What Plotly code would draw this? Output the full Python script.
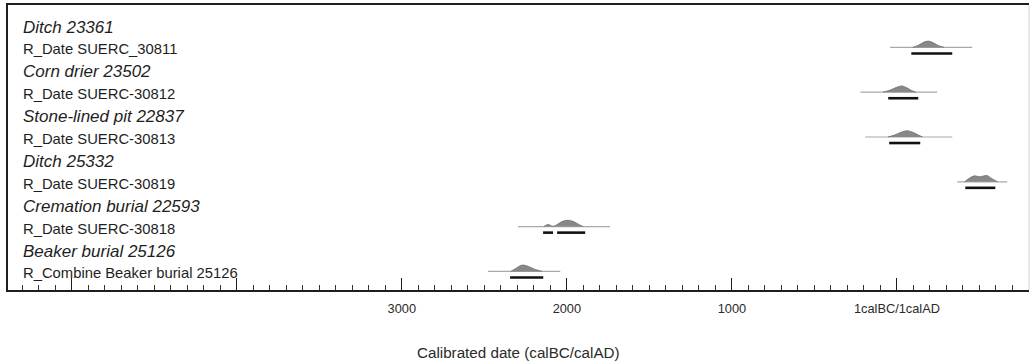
import plotly.graph_objects as go

# ---------------- data ----------------
row_labels = [
    "Ditch 23361", "R_Date SUERC_30811",
    "Corn drier 23502", "R_Date SUERC-30812",
    "Stone-lined pit 22837", "R_Date SUERC-30813",
    "Ditch 25332", "R_Date SUERC-30819",
    "Cremation burial 22593", "R_Date SUERC-30818",
    "Beaker burial 25126", "R_Combine Beaker burial 25126",
]
row_is_group = [True, False, True, False, True, False,
                True, False, True, False, True, False]

# calendar years: negative = BC, positive = AD
date_rows = [1, 3, 5, 7, 9, 11]

# probability outline (year, relative height)
hump_years = [
    [95, 130, 165, 190, 215, 250, 285],
    [-85, -45, -5, 30, 60, 90, 115],
    [-55, -15, 25, 62, 100, 130, 155],
    [410, 440, 470, 500, 545, 575, 610],
    [-2140, -2113, -2085, -2060, -2030, -1993, -1955, -1925, -1900],
    [-2340, -2310, -2280, -2260, -2230, -2190, -2150],
]
hump_heights = [
    [0, 0.35, 0.85, 1.0, 0.8, 0.3, 0],
    [0, 0.3, 0.75, 1.0, 0.7, 0.25, 0],
    [0, 0.3, 0.75, 1.0, 0.7, 0.3, 0],
    [0, 0.6, 0.95, 0.8, 1.0, 0.5, 0],
    [0, 0.35, 0.05, 0.3, 0.8, 1.0, 0.75, 0.3, 0],
    [0, 0.45, 0.95, 1.0, 0.75, 0.3, 0],
]
# faint likelihood extent
line_ranges = [
    [-41, 456], [-222, 244], [-192, 335], [365, 668], [-2295, -1738], [-2477, -2040],
]
# 95.4% range bars
range_bars = [
    [[87, 335]],
    [[-53, 129]],
    [[-47, 141]],
    [[414, 596]],
    [[-2144, -2084], [-2059, -1889]],
    [[-2344, -2143]],
]

major_tick_vals = [-5000, -4000, -3000, -2000, -1000, 0]
major_tick_text = ["", "", "3000", "2000", "1000", "1calBC/1calAD"]
x_range = [-5386, 800]
axis_title = "Calibrated date (calBC/calAD)"

# ---------------- style ----------------
LINE_OFF = -0.09   # row units (reversed axis: negative = up)
HUMP_H = 0.28
BAR_OFF = 0.18
INK = "#1e1e1e"
FONT = "Liberation Sans, Arial, sans-serif"

fig = go.Figure()

for k, r in enumerate(date_rows):
    lo, hi = line_ranges[k]
    fig.add_trace(go.Scatter(
        x=[lo, hi], y=[r + LINE_OFF, r + LINE_OFF], mode="lines",
        line=dict(color="#a8a8a8", width=1.2), hoverinfo="skip", showlegend=False))
    xs = hump_years[k]
    ys = [r + LINE_OFF - HUMP_H * h for h in hump_heights[k]]
    fig.add_trace(go.Scatter(
        x=xs, y=ys, mode="lines", fill="toself",
        line=dict(color="#707070", width=0.8, shape="spline", smoothing=0.8),
        fillcolor="#888888", hoverinfo="skip", showlegend=False))
    for b0, b1 in range_bars[k]:
        fig.add_trace(go.Scatter(
            x=[b0, b1], y=[r + BAR_OFF, r + BAR_OFF], mode="lines",
            line=dict(color="#111111", width=2.6), hoverinfo="skip", showlegend=False))

annotations = []
for i, lab in enumerate(row_labels):
    grp = row_is_group[i]
    annotations.append(dict(
        x=(20.5 - 8) / 1021, xref="paper", y=i, yref="y",
        text=f"<i>{lab}</i>" if grp else lab,
        showarrow=False, xanchor="left", yanchor="middle",
        font=dict(family=FONT, size=17.0 if grp else 14.8, color=INK)))

annotations.append(dict(
    x=0.5, xref="paper", y=-(352 - 290) / 285, yref="paper",
    text=axis_title, showarrow=False, xanchor="center", yanchor="middle",
    font=dict(family=FONT, size=15.2, color="#2a2a2a")))

fig.update_layout(
    width=1032, height=364,
    margin=dict(l=8, r=3, t=5, b=74),
    paper_bgcolor="white", plot_bgcolor="white",
    annotations=annotations,
    shapes=[dict(type="line", xref="paper", yref="paper", x0=1, x1=1, y0=0, y1=1,
                 line=dict(color="#d4d4d4", width=1))],
    xaxis=dict(
        range=x_range, tickmode="array", tickvals=major_tick_vals, ticktext=major_tick_text,
        ticks="inside", ticklen=12, tickwidth=1.2, tickcolor=INK,
        showline=True, linecolor=INK, linewidth=1.6, mirror=True,
        showgrid=False, zeroline=False, ticklabelstandoff=6,
        tickfont=dict(family=FONT, size=12.8, color="#2a2a2a"),
        minor=dict(tickmode="linear", tick0=0, dtick=100, ticks="inside",
                   ticklen=5, tickwidth=1, tickcolor="#333333", showgrid=False),
    ),
    yaxis=dict(
        range=[11.741, -0.982], showline=True, linecolor=INK, linewidth=1.6,
        showticklabels=False, ticks="", showgrid=False, zeroline=False,
    ),
)

fig.write_html("out.html",
               config={"displayModeBar": False},
               post_script="document.body.style.margin='0';document.body.style.padding='0';")
